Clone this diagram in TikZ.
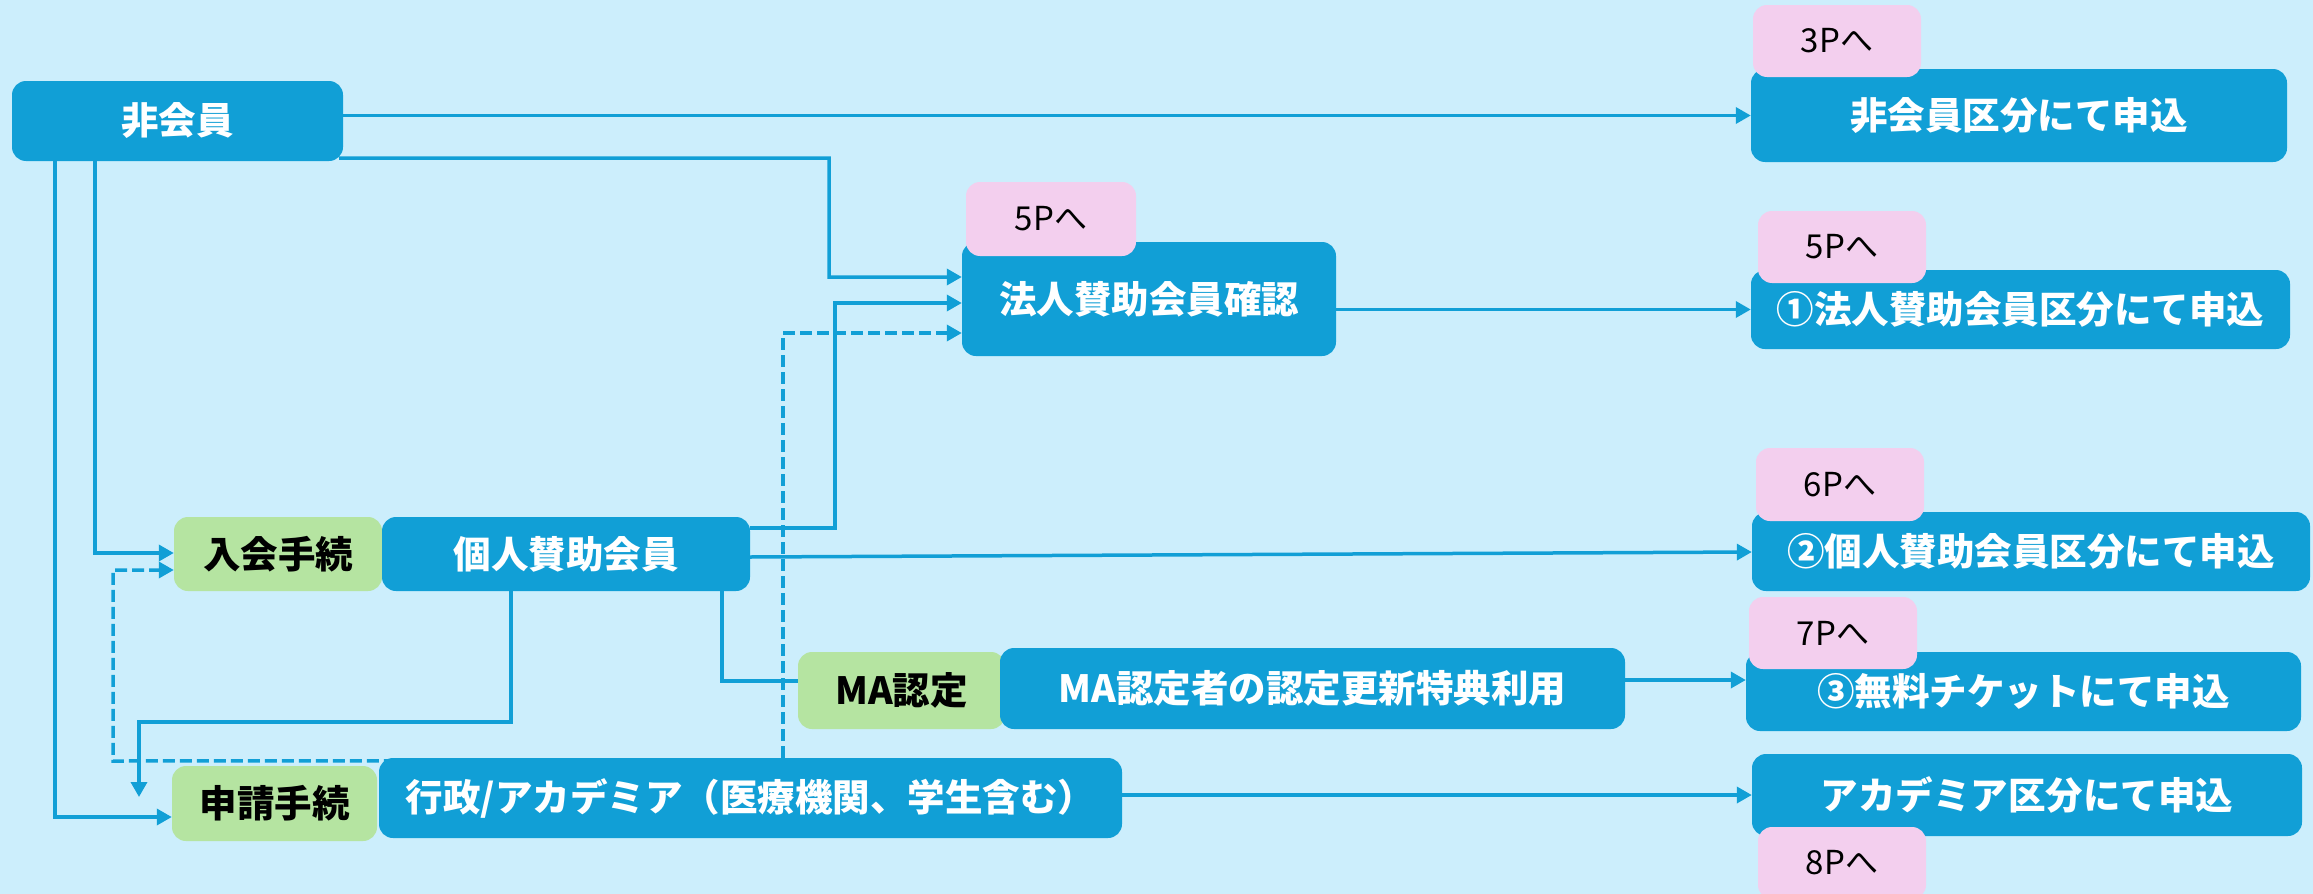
\documentclass[tikz,border=0pt]{standalone}
\usepackage{fontspec}
\newfontfamily\jp{Noto Sans CJK JP}
\usetikzlibrary{arrows.meta}
\definecolor{bgc}{RGB}{204,238,252}
\definecolor{bluec}{RGB}{17,159,214}
\definecolor{greenc}{RGB}{181,228,161}
\definecolor{pinkc}{RGB}{243,207,238}
\begin{document}
\begin{tikzpicture}[x=1pt,y=-1pt,
  basebox/.style={rounded corners=14pt, inner sep=0pt, draw=none},
  bluebox/.style={basebox, fill=bluec, text=white, font={\jp\bfseries\fontsize{37.5}{40}\selectfont}},
  greenbox/.style={basebox, fill=greenc, text=black, font={\jp\bfseries\fontsize{37.5}{40}\selectfont}},
  pinkbox/.style={basebox, fill=pinkc, text=black, font={\jp\fontsize{33}{36}\selectfont}},
  conn/.style={draw=bluec, line width=3.5pt, -{Triangle[length=15pt,width=16pt]}},
  plain/.style={draw=bluec, line width=3.5pt},
  dconn/.style={conn, dash pattern=on 12pt off 5pt}
]
\fill[bgc] (0,0) rectangle (2313,894);
\useasboundingbox (0,0) rectangle (2313,894);

% main boxes
\node[bluebox, minimum width=331pt, minimum height=80pt] (n0) at (177.5,121) {非会員};
\node[bluebox, minimum width=536pt, minimum height=93pt] (r0) at (2019,115.5) {非会員区分にて申込};
\node[bluebox, minimum width=374pt, minimum height=114pt] (hk) at (1149,299) {法人賛助会員確認};
\node[bluebox, minimum width=539pt, minimum height=79pt] (r1) at (2020.5,309.5) {①法人賛助会員区分にて申込};
\node[greenbox, minimum width=208pt, minimum height=74pt] (g1) at (278,554) {入会手続};
\node[bluebox, minimum width=368pt, minimum height=74pt] (ko) at (566,554) {個人賛助会員};
\node[bluebox, minimum width=558pt, minimum height=79pt] (r2) at (2031,551.5) {②個人賛助会員区分にて申込};
\node[greenbox, minimum width=207pt, minimum height=77pt] (g2) at (901.5,690.5) {MA認定};
\node[bluebox, minimum width=625pt, minimum height=81pt] (ma) at (1312.5,688.5) {MA認定者の認定更新特典利用};
\node[bluebox, minimum width=555pt, minimum height=79pt] (r3) at (2023.5,691.5) {③無料チケットにて申込};
\node[greenbox, minimum width=205pt, minimum height=75pt] (g3) at (274.5,803.5) {申請手続};
\node[bluebox, minimum width=743pt, minimum height=80pt] (gy) at (750.5,798) {行政/アカデミア（医療機関、学生含む）};
\node[bluebox, minimum width=550pt, minimum height=82pt] (r4) at (2027,795) {アカデミア区分にて申込};

% connectors
\draw[conn] (n0.east |- r0.west) -- (r0.west);
\draw[conn] ([xshift=-4pt,yshift=3pt]n0.south east) -- (829,158) -- (829,277) -- (hk.west |- 0,277);
\draw[conn] ([yshift=26pt]ko.east) -- (835,528) -- (835,303) -- (hk.west |- 0,303);
\draw[dconn] (783,0 |- gy.north) -- (783,333) -- (hk.west |- 0,333);
\draw[conn] ([yshift=-3pt]ko.east) -- ([yshift=-0.5pt]r2.west);
\draw[plain] (722,0 |- ko.south) -- (722,681) -- (g2.west |- 0,681);
\coordinate (tipA) at (139,797);
\draw[conn] (511,0 |- ko.south) -- (511,722) -- (139,722) -- (tipA);
\draw[dconn] ([xshift=17pt,yshift=-3pt]gy.north west) -- (113,761) -- (113,570) -- (g1.west |- 0,570);
\draw[conn] (95,0 |- n0.south) -- (95,553) -- (g1.west |- 0,553);
\draw[conn] (55,0 |- n0.south) -- (55,817) -- (g3.west |- 0,817);
\draw[conn] (hk.east |- r1.west) -- (r1.west);
\draw[conn] (ma.east |- 0,680) -- (r3.west |- 0,680);
\draw[conn] (gy.east |- r4.west) -- (r4.west);

% page tags
\node[pinkbox, minimum width=168pt, minimum height=72pt] (p3) at (1837,41) {3Pへ};
\node[pinkbox, minimum width=170pt, minimum height=74pt] (p5a) at (1051,219) {5Pへ};
\node[pinkbox, minimum width=168pt, minimum height=72pt] (p5b) at (1842,247) {5Pへ};
\node[pinkbox, minimum width=168pt, minimum height=73pt] (p6) at (1840,484.5) {6Pへ};
\node[pinkbox, minimum width=168pt, minimum height=72pt] (p7) at (1833,633) {7Pへ};
\node[pinkbox, minimum width=168pt, minimum height=72pt] (p8) at (1842,863) {8Pへ};
\end{tikzpicture}
\end{document}
